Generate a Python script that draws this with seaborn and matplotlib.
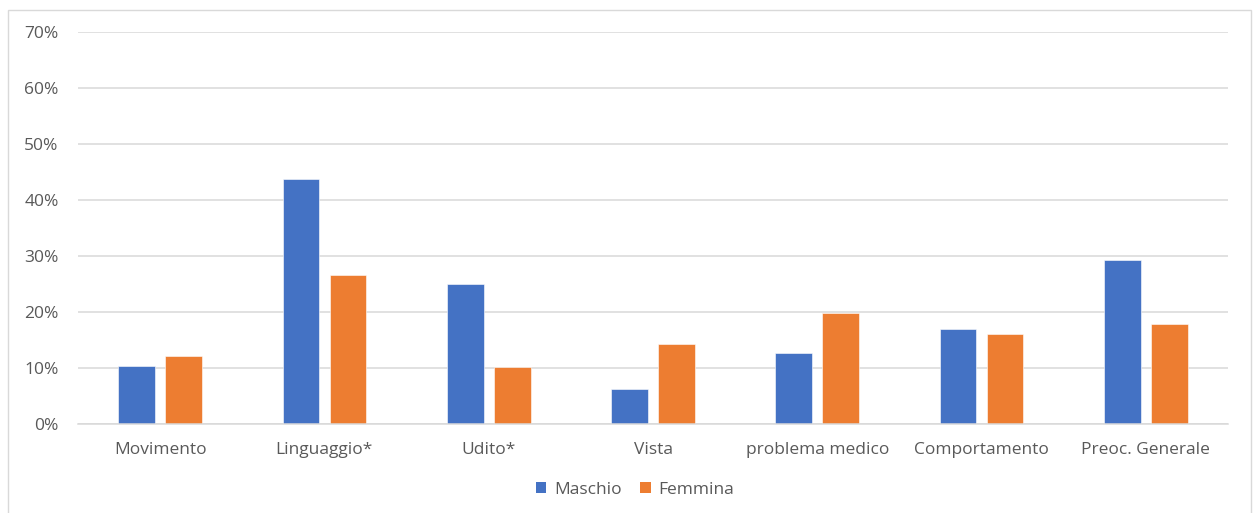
import matplotlib
matplotlib.use("Agg")
import matplotlib.pyplot as plt
import matplotlib.patches as mpatches
from matplotlib.ticker import PercentFormatter
import pandas as pd
import seaborn as sns

# Data
categories = ["Movimento", "Linguaggio*", "Udito*", "Vista", "problema medico",
              "Comportamento", "Preoc. Generale"]
maschio = [0.104, 0.438, 0.250, 0.063, 0.127, 0.169, 0.293]
femmina = [0.121, 0.266, 0.101, 0.143, 0.199, 0.161, 0.179]
series_names = ["Maschio", "Femmina"]
y_ticks = [0.0, 0.1, 0.2, 0.3, 0.4, 0.5, 0.6, 0.7]

df = pd.DataFrame({
    "categoria": categories * 2,
    "sesso": [series_names[0]] * len(categories) + [series_names[1]] * len(categories),
    "valore": maschio + femmina,
})

sns.set_style("white")
plt.rcParams["font.family"] = ["Open Sans", "DejaVu Sans"]

text_grey = "#595959"
grid_grey = "#D9D9D9"
palette = {"Maschio": "#4472C4", "Femmina": "#ED7D31"}

W, H = 1253, 513
fig = plt.figure(figsize=(W / 100, H / 100), dpi=100)
ax = fig.add_axes([78 / W, 1 - 424 / H, (1228 - 78) / W, (424 - 32) / H])

sns.barplot(data=df, x="categoria", y="valore", hue="sesso", order=categories,
            hue_order=series_names, palette=palette, width=0.572, gap=0.22,
            saturation=1, edgecolor="white", linewidth=0.4, ax=ax, legend=False)

ax.set_ylim(0, 0.70)
ax.set_xlim(-0.5, len(categories) - 0.5)
ax.set_yticks(y_ticks)
ax.yaxis.set_major_formatter(PercentFormatter(1.0, decimals=0))
ax.set_xlabel("")
ax.set_ylabel("")

ax.grid(axis="y", color=grid_grey, linewidth=1.1)
ax.set_axisbelow(True)
for side in ["top", "right", "left"]:
    ax.spines[side].set_visible(False)
ax.spines["bottom"].set_color(grid_grey)
ax.spines["bottom"].set_linewidth(1.1)

ax.tick_params(axis="both", length=0, labelsize=12.5, labelcolor=text_grey)
ax.tick_params(axis="y", pad=14)
ax.tick_params(axis="x", pad=13)

handles = [mpatches.Patch(facecolor=palette[s], edgecolor="none", label=s)
           for s in series_names]
leg = fig.legend(handles=handles, loc="center", ncol=2,
                 bbox_to_anchor=(635 / W, 1 - 490 / H), frameon=False,
                 fontsize=12.5, handlelength=0.6, handleheight=0.6,
                 handletextpad=0.45, columnspacing=1.1)
for t in leg.get_texts():
    t.set_color(text_grey)

# Chart area border
fig.patches.append(mpatches.Rectangle((7.5 / W, -0.05), (1251 - 7.5) / W,
                                      1.05 - 9.5 / H, transform=fig.transFigure,
                                      fill=False, edgecolor=grid_grey, linewidth=1.0))

fig.savefig("out.png", dpi=100, facecolor="white")
